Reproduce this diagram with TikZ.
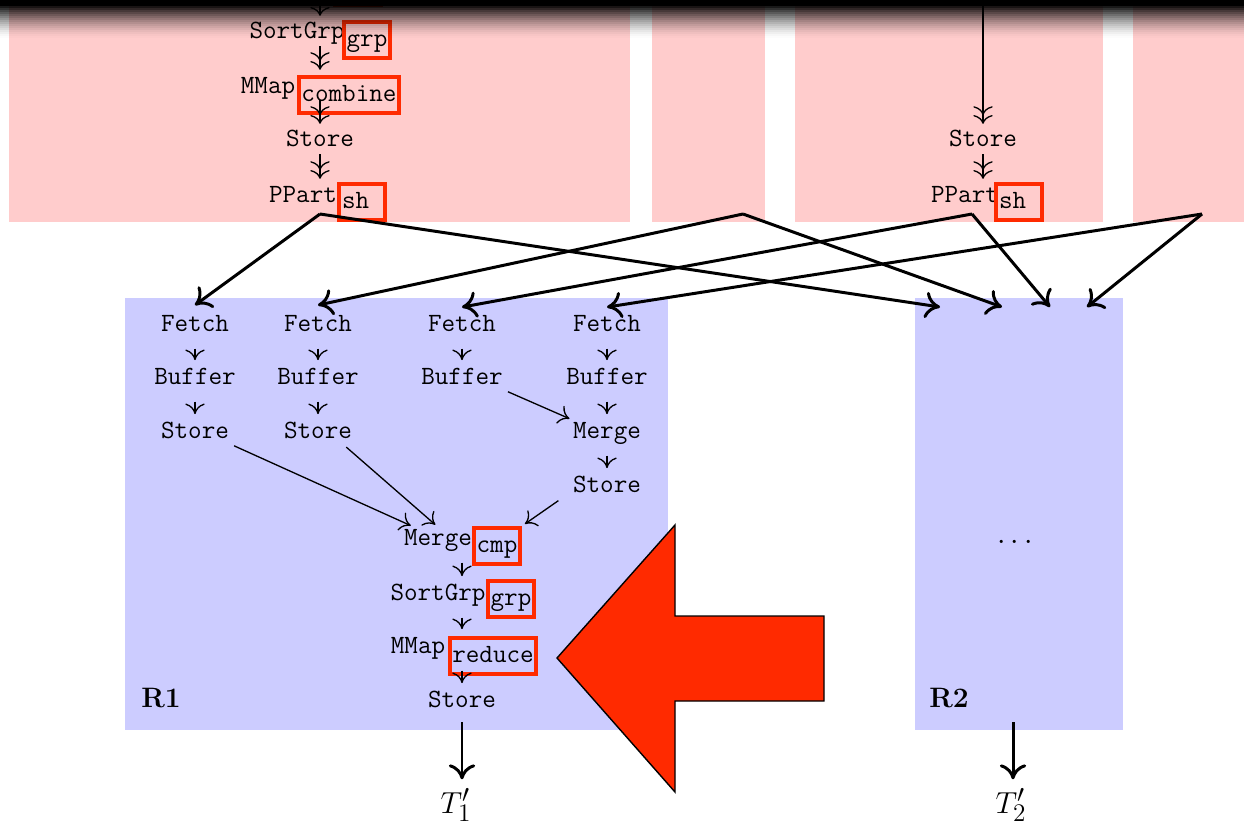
\documentclass[tikz,border=0pt]{standalone}
\usetikzlibrary{arrows.meta,calc}
\definecolor{mapfill}{RGB}{255,204,204}
\definecolor{redfill}{RGB}{204,204,255}
\definecolor{udfred}{RGB}{255,42,0}
\newcommand\optext{\fontsize{15}{18}\selectfont\ttfamily}
\tikzset{
  op/.style = {font=\optext, inner sep=0pt, text height=10pt, text depth=3pt, anchor=base},
  udf/.style = {draw=udfred, line width=2.3pt, font=\optext, inner xsep=1.5pt, inner ysep=3pt,
                text height=11pt, text depth=3.5pt},
  lbl/.style = {font=\fontsize{16}{18}\selectfont\bfseries},
  chain/.style = {-{To[length=5pt,width=11pt] To[length=5pt,width=11pt]}, line width=0.75pt,
                  shorten <=1pt, shorten >=3pt},
  flow/.style = {-{To[length=6pt,width=11pt]}, line width=0.75pt, shorten <=6.8pt, shorten >=3.4pt},
  link/.style = {-{To[length=6pt,width=11pt]}, line width=0.75pt, shorten <=3pt, shorten >=2pt},
  shuffle/.style = {-{To[length=8.5pt,width=15pt]}, line width=1.7pt, line join=bevel},
  result/.style = {-{To[length=8.5pt,width=15pt]}, line width=1.7pt, shorten <=5.5pt, shorten >=4pt}
}

\begin{document}
\begin{tikzpicture}[x=0.02cm, y=-0.02cm]
\clip (0,0) rectangle (1244,828);
% map tasks
\fill[mapfill] (9,-20) rectangle (630,222);
\fill[mapfill] (652,-20) rectangle (765,222);
\fill[mapfill] (795,-20) rectangle (1103,222);
\fill[mapfill] (1133,-20) rectangle (1260,222);
% reduce tasks
\fill[redfill] (125,298) rectangle (668,730);
\fill[redfill] (915,298) rectangle (1123,730);

% mapper 1
\node[op] (sg1) at (297,39) {SortGrp};
\node[op] (mm1) at (268,93) {MMap};
\node[op] (st1) at (320,147) {Store};
\node[op] (pp1) at (303,202) {PPart};
\node[udf, minimum width=0.9cm] (u0) at (358,-13) {};
\node[udf] (u1) at (367,40) {grp};
\node[udf] (u2) at (349,95) {combine};
\node[udf, text width=0.8cm] (u3) at (362,202) {sh};
\coordinate (in1) at (320,-20);
\draw[chain] (in1) -- (st1 |- sg1.north);
\draw[chain] (st1 |- sg1.south) -- (st1 |- mm1.north);
\draw[chain] (st1 |- mm1.south) -- (st1.north);
\draw[chain] (st1.south) -- (st1 |- pp1.north);

% mapper 3
\node[op] (st2) at (983,147) {Store};
\node[op] (pp2) at (965,202) {PPart};
\node[udf, text width=0.8cm] (u4) at (1019,202) {sh};
\coordinate (in3) at (983,-20);
\draw[chain] (in3) -- (st2.north);
\draw[chain] (st2.south) -- (st2 |- pp2.north);

% reducer 1: fetch and merge
\node[op] (f1) at (195,331) {Fetch};
\node[op] (f2) at (318,331) {Fetch};
\node[op] (f3) at (462,331) {Fetch};
\node[op] (f4) at (607,331) {Fetch};
\node[op] (b1) at (195,384) {Buffer};
\node[op] (b2) at (318,384) {Buffer};
\node[op] (b3) at (462,384) {Buffer};
\node[op] (b4) at (607,384) {Buffer};
\node[op] (s1) at (195,438) {Store};
\node[op] (s2) at (318,438) {Store};
\node[op] (mg4) at (607,438) {Merge};
\node[op] (s4) at (607,492) {Store};
\draw[flow] (f1) -- (b1);
\draw[flow] (f2) -- (b2);
\draw[flow] (f3) -- (b3);
\draw[flow] (f4) -- (b4);
\draw[flow] (b1) -- (s1);
\draw[flow] (b2) -- (s2);
\draw[flow] (b4) -- (mg4);
\draw[flow] (mg4) -- (s4);
\draw[link] (b3.south east) -- (mg4.north west);

% reducer 1: final merge and reduce
\node[op] (mg) at (438,545) {Merge};
\node[op] (sg2) at (438,600) {SortGrp};
\node[op] (mm2) at (418,653) {MMap};
\node[op] (s5) at (462,707) {Store};
\node[udf] (u5) at (497,546) {cmp};
\node[udf] (u6) at (511,599) {grp};
\node[udf] (u7) at (493,656) {reduce};
\draw[link] (s1.south east) -- ([xshift=-0.48cm]mg.north);
\draw[link] ([xshift=-0.2cm]s2.south east) -- (mg.north);
\draw[link] ([xshift=-0.2cm]s4.south west) -- (u5.north east);
\draw[flow] (s5 |- mg.south) -- (s5 |- sg2.north);
\draw[flow] (s5 |- sg2.south) -- (s5 |- mm2.north);
\draw[flow] (s5 |- mm2.south) -- (s5.north);

% reducer 2
\node[font=\fontsize{16}{18}\selectfont] (dots) at (1015,543) {$\cdots$};
\node[lbl] (l1) at (161,698) {R1};
\node[lbl] (l2) at (949,698) {R2};
\coordinate (r2o) at (1013,722);
\coordinate (i1) at (940,307);
\coordinate (i2) at (1002,307);
\coordinate (i3) at (1050,307);
\coordinate (i4) at (1087,307);

% outputs
\node[font=\fontsize{19}{22}\selectfont, inner sep=1pt] (t1) at (456,805) {$T'_1$};
\node[font=\fontsize{19}{22}\selectfont, inner sep=1pt] (t2) at (1011,805) {$T'_2$};
\draw[result] (s5) -- (s5 |- t1.north);
\draw[result, shorten <=0pt] (r2o) -- (r2o |- t2.north);

% shuffle
\coordinate (m1) at (320,214);
\coordinate (m2) at (743,214);
\coordinate (m3) at (972,214);
\coordinate (m4) at (1202,214);
\draw[shuffle] (m1) -- ([yshift=0.16cm]f1.north);
\draw[shuffle] (m1) -- (i1);
\draw[shuffle] (m2) -- ([yshift=0.16cm]f2.north);
\draw[shuffle] (m2) -- (i2);
\draw[shuffle] (m3) -- ([yshift=0.12cm]f3.north);
\draw[shuffle] (m3) -- (i3);
\draw[shuffle] (m4) -- ([yshift=0.12cm]f4.north);
\draw[shuffle] (m4) -- (i4);

% big red pointer
\draw[line width=0.8pt, fill=udfred] (557,658) -- (675,525) -- (675,616) -- (824,616)
  -- (824,701) -- (675,701) -- (675,792) -- cycle;

% shadow along the top edge
\fill[black] (0,-5) rectangle (1244,6);
\foreach \i [evaluate=\i as \op using 0.9*(1-\i/16)^1.6] in {0,...,15}
  \fill[black, opacity=\op] (0,6+2*\i) rectangle (1244,8+2*\i);
\end{tikzpicture}
\end{document}
